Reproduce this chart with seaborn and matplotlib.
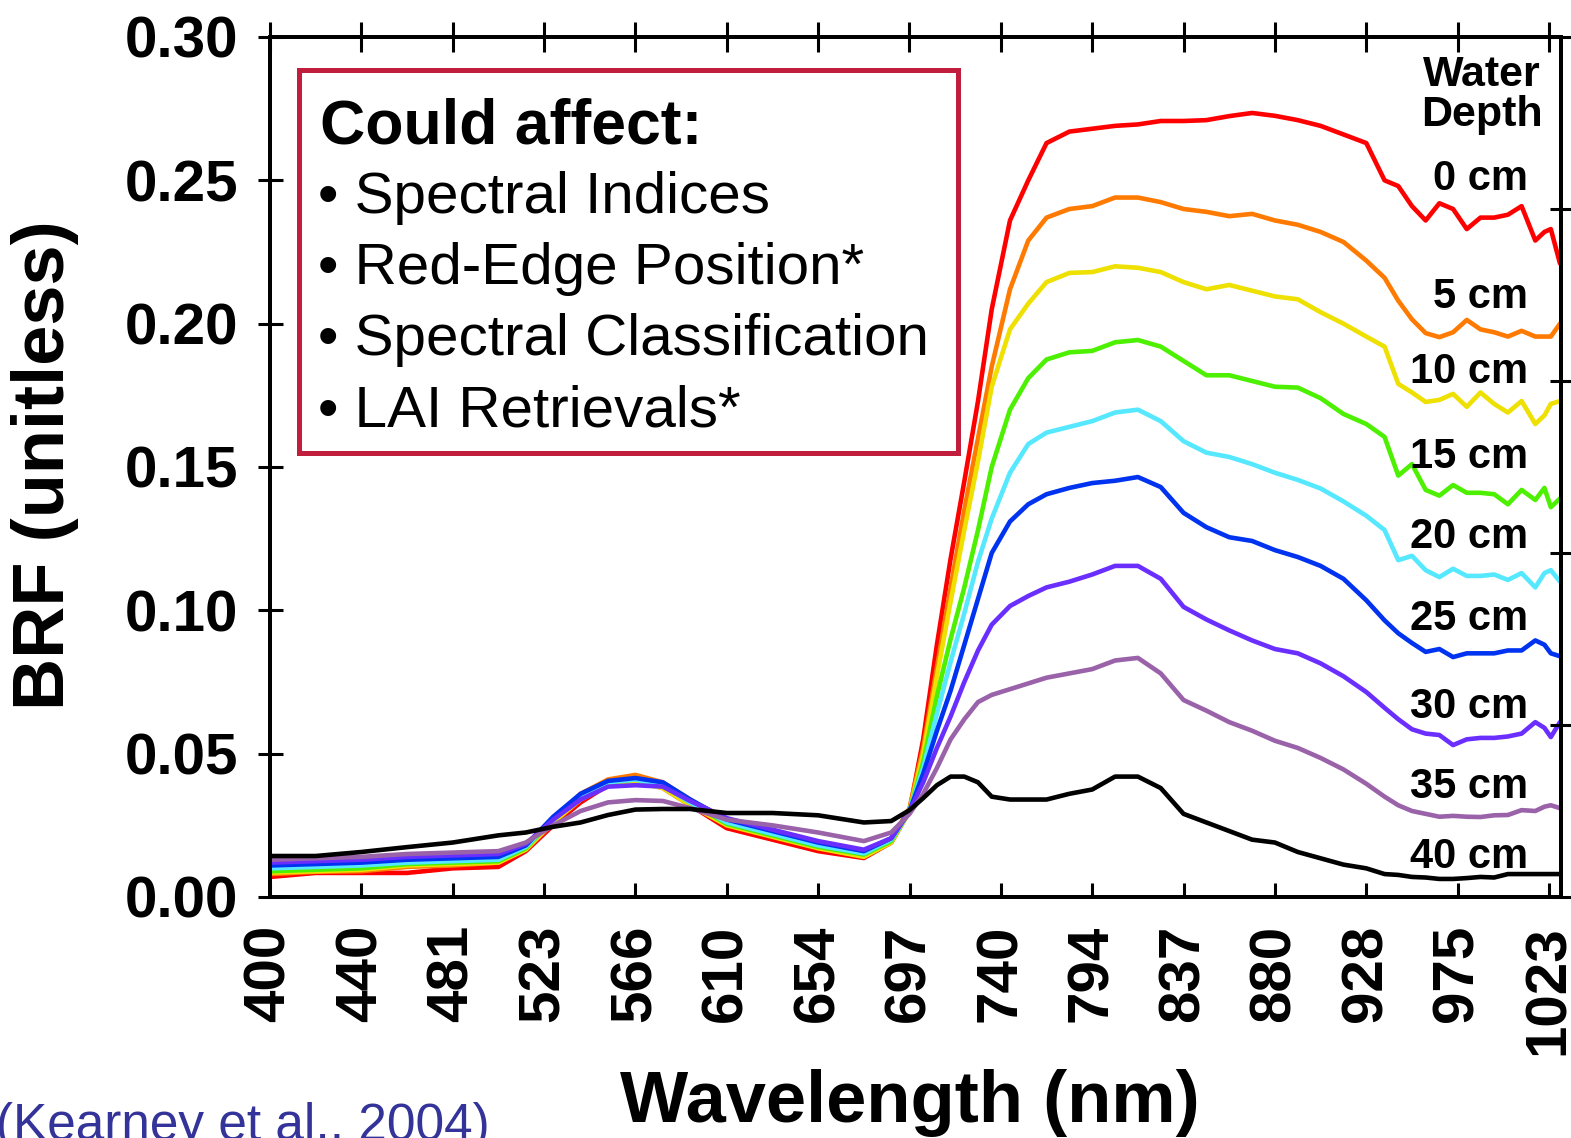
import numpy as np
import pandas as pd
import matplotlib
matplotlib.use("Agg")
import matplotlib.pyplot as plt
from matplotlib.patches import Rectangle
import seaborn as sns

# ---------------- data ----------------
tick_labels = ["400", "440", "481", "523", "566", "610", "654", "697",
               "740", "794", "837", "880", "928", "975", "1023"]

# band position (in units of the labelled tick spacing)
band = [0, 0.5, 1, 1.5, 2, 2.5,
        2.8, 3.1, 3.4, 3.7,
        4.0, 4.3, 4.6,
        5.0, 5.5, 6.0, 6.5, 6.8,
        7.0, 7.15, 7.3, 7.45, 7.6, 7.75, 7.9,
        8.1, 8.3, 8.5, 8.75,
        9.0, 9.25, 9.5, 9.75,
        10.0, 10.25, 10.5, 10.75,
        11.0, 11.25, 11.5, 11.75,
        12.0, 12.2, 12.35, 12.5, 12.65, 12.8, 12.95,
        13.1, 13.25, 13.4, 13.55, 13.7, 13.85, 13.95,
        14.02, 14.12]

depth_labels = ["0 cm", "5 cm", "10 cm", "15 cm", "20 cm",
                "25 cm", "30 cm", "35 cm", "40 cm"]

brf_0 = [0.007, 0.0084, 0.0084, 0.0084, 0.010, 0.0105,
         0.016, 0.025, 0.033, 0.039,
         0.041, 0.038, 0.032,
         0.024, 0.020, 0.016, 0.0136, 0.019,
         0.030, 0.055, 0.088, 0.118, 0.145, 0.173, 0.205,
         0.236, 0.250, 0.263, 0.267,
         0.268, 0.269, 0.2695, 0.2707,
         0.2707, 0.271, 0.2724, 0.2735,
         0.2725, 0.271, 0.269, 0.266,
         0.263, 0.250, 0.248, 0.241, 0.236, 0.242, 0.240,
         0.233, 0.237, 0.237, 0.238, 0.241, 0.229, 0.232,
         0.233, 0.221]
brf_5 = [0.008, 0.0088, 0.009, 0.0105, 0.011, 0.012,
         0.017, 0.027, 0.036, 0.041,
         0.0426, 0.040, 0.034,
         0.026, 0.022, 0.018, 0.0155, 0.020,
         0.031, 0.052, 0.080, 0.108, 0.135, 0.160, 0.185,
         0.212, 0.229, 0.237, 0.240,
         0.241, 0.244, 0.244, 0.2424,
         0.240, 0.239, 0.2375, 0.2383,
         0.236, 0.2345, 0.232, 0.2285,
         0.222, 0.216, 0.208, 0.2015, 0.1967, 0.1953, 0.197,
         0.2013, 0.198, 0.197, 0.1955, 0.1975, 0.1955, 0.1955,
         0.1955, 0.200]
brf_10 = [0.0085, 0.009, 0.0095, 0.011, 0.0115, 0.012,
          0.0165, 0.026, 0.034, 0.039,
          0.040, 0.038, 0.032,
          0.025, 0.021, 0.017, 0.014, 0.019,
          0.030, 0.050, 0.077, 0.103, 0.128, 0.152, 0.178,
          0.198, 0.207, 0.2145, 0.2177,
          0.218, 0.220, 0.2195, 0.218,
          0.2145, 0.212, 0.2135, 0.2115,
          0.2095, 0.2085, 0.204, 0.200,
          0.1955, 0.192, 0.179, 0.176, 0.1727, 0.1734, 0.1755,
          0.171, 0.176, 0.172, 0.169, 0.173, 0.165, 0.168,
          0.172, 0.173]
brf_15 = [0.009, 0.0095, 0.010, 0.0115, 0.012, 0.0125,
          0.017, 0.027, 0.035, 0.040,
          0.041, 0.039, 0.033,
          0.0255, 0.0215, 0.0175, 0.0148, 0.0195,
          0.030, 0.047, 0.070, 0.090, 0.108, 0.128, 0.150,
          0.170, 0.181, 0.1875, 0.190,
          0.1905, 0.1935, 0.1943, 0.192,
          0.187, 0.182, 0.182, 0.180,
          0.178, 0.1777, 0.174, 0.1685,
          0.165, 0.1605, 0.147, 0.151, 0.142, 0.140, 0.1437,
          0.141, 0.141, 0.1405, 0.137, 0.142, 0.1385, 0.1427,
          0.136, 0.139]
brf_20 = [0.010, 0.0105, 0.011, 0.012, 0.0125, 0.013,
          0.0175, 0.027, 0.035, 0.040,
          0.041, 0.039, 0.033,
          0.026, 0.022, 0.018, 0.0152, 0.020,
          0.030, 0.045, 0.064, 0.082, 0.099, 0.117, 0.132,
          0.148, 0.158, 0.162, 0.164,
          0.166, 0.169, 0.170, 0.166,
          0.159, 0.155, 0.1535, 0.151,
          0.148, 0.1455, 0.1425, 0.138,
          0.133, 0.128, 0.1175, 0.119, 0.114, 0.1116, 0.1145,
          0.112, 0.112, 0.1125, 0.1106, 0.113, 0.108, 0.113,
          0.114, 0.110]
brf_25 = [0.011, 0.0115, 0.012, 0.013, 0.0135, 0.014,
          0.018, 0.028, 0.036, 0.0405,
          0.0415, 0.040, 0.034,
          0.027, 0.023, 0.019, 0.016, 0.0205,
          0.030, 0.043, 0.058, 0.072, 0.088, 0.104, 0.120,
          0.131, 0.137, 0.1405, 0.1427,
          0.1444, 0.1452, 0.1465, 0.143,
          0.134, 0.129, 0.1255, 0.1242,
          0.121, 0.1186, 0.1155, 0.111,
          0.1035, 0.0965, 0.092, 0.0886, 0.0855, 0.0865, 0.0837,
          0.085, 0.085, 0.085, 0.086, 0.086, 0.0895, 0.088,
          0.085, 0.084]
brf_30 = [0.012, 0.0125, 0.013, 0.014, 0.0145, 0.015,
          0.0185, 0.027, 0.034, 0.0385,
          0.039, 0.0385, 0.0335,
          0.0275, 0.0235, 0.0195, 0.0165, 0.0205,
          0.030, 0.040, 0.052, 0.063, 0.075, 0.086, 0.095,
          0.1015, 0.105, 0.108, 0.110,
          0.1125, 0.1155, 0.1155, 0.111,
          0.1012, 0.0968, 0.093, 0.0895,
          0.0865, 0.085, 0.0815, 0.077,
          0.0715, 0.066, 0.062, 0.0585, 0.057, 0.0565, 0.053,
          0.055, 0.0555, 0.0555, 0.056, 0.057, 0.061, 0.059,
          0.0558, 0.061]
brf_35 = [0.013, 0.0135, 0.014, 0.015, 0.0155, 0.016,
          0.019, 0.025, 0.030, 0.033,
          0.0338, 0.0335, 0.031,
          0.027, 0.025, 0.0225, 0.0195, 0.0225,
          0.029, 0.036, 0.045, 0.055, 0.062, 0.068, 0.0705,
          0.0725, 0.0745, 0.0765, 0.078,
          0.0795, 0.0825, 0.0834, 0.078,
          0.0687, 0.065, 0.061, 0.058,
          0.0545, 0.052, 0.0485, 0.0445,
          0.0395, 0.035, 0.032, 0.030, 0.029, 0.028, 0.0283,
          0.028, 0.0279, 0.0285, 0.0286, 0.0303, 0.030, 0.0315,
          0.032, 0.031]
brf_40 = [0.0143, 0.0143, 0.0157, 0.0174, 0.019, 0.0215,
          0.0225, 0.0245, 0.026, 0.0286,
          0.0305, 0.0307, 0.0307,
          0.0293, 0.0293, 0.0285, 0.026, 0.0265,
          0.0303, 0.0345, 0.039, 0.042, 0.042, 0.040, 0.035,
          0.034, 0.034, 0.034, 0.036,
          0.0375, 0.042, 0.042, 0.038,
          0.029, 0.026, 0.023, 0.020,
          0.019, 0.0157, 0.0135, 0.0113,
          0.010, 0.008, 0.0077, 0.007, 0.0068, 0.0063, 0.0063,
          0.0066, 0.007, 0.0068, 0.008, 0.008, 0.008, 0.008,
          0.008, 0.008]

series = [brf_0, brf_5, brf_10, brf_15, brf_20, brf_25, brf_30, brf_35, brf_40]
colors = ["#FF0000", "#FF7A00", "#EEE000", "#4CF000", "#55E8FF",
          "#0033F0", "#6A2EFF", "#9A62A8", "#000000"]

df = pd.concat([pd.DataFrame({"band": band, "brf": s, "depth": lab})
                for s, lab in zip(series, depth_labels)], ignore_index=True)

# ---------------- figure ----------------
sns.set_theme(style="ticks")
plt.rcParams["font.family"] = ["Liberation Sans", "DejaVu Sans"]
plt.rcParams["text.color"] = "black"
plt.rcParams["axes.labelcolor"] = "black"
plt.rcParams["xtick.color"] = "black"
plt.rcParams["ytick.color"] = "black"

W, H = 1571, 1138
fig = plt.figure(figsize=(W / 100, H / 100), dpi=100)
fig.patch.set_facecolor("white")

def fx(px):
    return px / W

def fy(py):
    return 1 - py / H

left, right, top, bottom = 270, 1561, 37, 897
ax = fig.add_axes([fx(left), fy(bottom), fx(right) - fx(left), fy(top) - fy(bottom)])
ax.set_facecolor("white")

sns.lineplot(data=df, x="band", y="brf", hue="depth", hue_order=depth_labels,
             palette=colors, estimator=None, sort=False, linewidth=3.3,
             legend=False, ax=ax)

xmax = (right - left) / ((1549 - 270) / 14)
ax.set_xlim(0, xmax)
ax.set_ylim(0, 0.30)
ax.set_xticks(range(len(tick_labels)))
ax.set_xticklabels(tick_labels, rotation=90, fontsize=42, fontweight="bold",
                   color="black")
yt = np.arange(0, 0.301, 0.05)
ax.set_yticks(yt)
ax.set_yticklabels([f"{v:.2f}" for v in yt], fontsize=42, fontweight="bold",
                   color="black")
ax.set_xlabel("")
ax.set_ylabel("")
ax.tick_params(axis="x", direction="in", length=10, width=2.2, pad=20,
               top=False, colors="black")
ax.tick_params(axis="y", direction="inout", length=18, width=2.2, pad=14,
               right=False, colors="black")
for sp in ax.spines.values():
    sp.set_visible(True)
    sp.set_linewidth(2.6)
    sp.set_color("black")

# top ticks
axt = ax.twiny()
axt.set_xlim(ax.get_xlim())
axt.set_xticks(range(len(tick_labels)))
axt.tick_params(axis="x", direction="inout", length=21, width=2.2, labeltop=False,
                colors="black")
# right ticks
axr = ax.twinx()
axr.set_ylim(0, 0.30)
axr.set_yticks(np.linspace(0, 0.30, 6))
axr.tick_params(axis="y", direction="inout", length=16, width=2.2, labelright=False,
                colors="black")
for a in (axt, axr):
    for sp in a.spines.values():
        sp.set_linewidth(2.6)
        sp.set_color("black")

# axis titles
fig.text(fx(45), fy(465), "BRF (unitless)", rotation=90, ha="center", va="center",
         fontsize=52, fontweight="bold", color="black")
fig.text(fx(910), fy(1122), "Wavelength (nm)", ha="center", va="baseline",
         fontsize=52, fontweight="bold", color="black")
fig.text(fx(-4), fy(1140), "(Kearney et al., 2004)", ha="left", va="baseline",
         fontsize=37, color="#333399")

# annotation box
fig.patches.append(Rectangle((fx(299), fy(453)), fx(958) - fx(299), fy(70) - fy(453),
                             transform=fig.transFigure, fill=False,
                             edgecolor="#C01E3C", linewidth=3.6, zorder=5))
fig.text(fx(320), fy(143), "Could affect:", ha="left", va="baseline",
         fontsize=45, fontweight="bold", color="black")
bullets = ["Spectral Indices", "Red-Edge Position*", "Spectral Classification",
           "LAI Retrievals*"]
for i, b in enumerate(bullets):
    fig.text(fx(318), fy(213 + 71 * i), "\u2022 " + b, ha="left", va="baseline",
             fontsize=42, color="black")

# depth labels
fig.text(fx(1482), fy(86), "Water", ha="center", va="baseline", fontsize=31,
         fontweight="bold", color="black")
fig.text(fx(1482), fy(126), "Depth", ha="center", va="baseline", fontsize=31,
         fontweight="bold", color="black")
label_base = [190, 308, 383, 468, 548, 630, 718, 798, 868]
for lab, yb in zip(depth_labels, label_base):
    fig.text(fx(1528), fy(yb), lab, ha="right", va="baseline", fontsize=30,
             fontweight="bold", color="black")

fig.savefig("out.png", dpi=100, facecolor="white")
